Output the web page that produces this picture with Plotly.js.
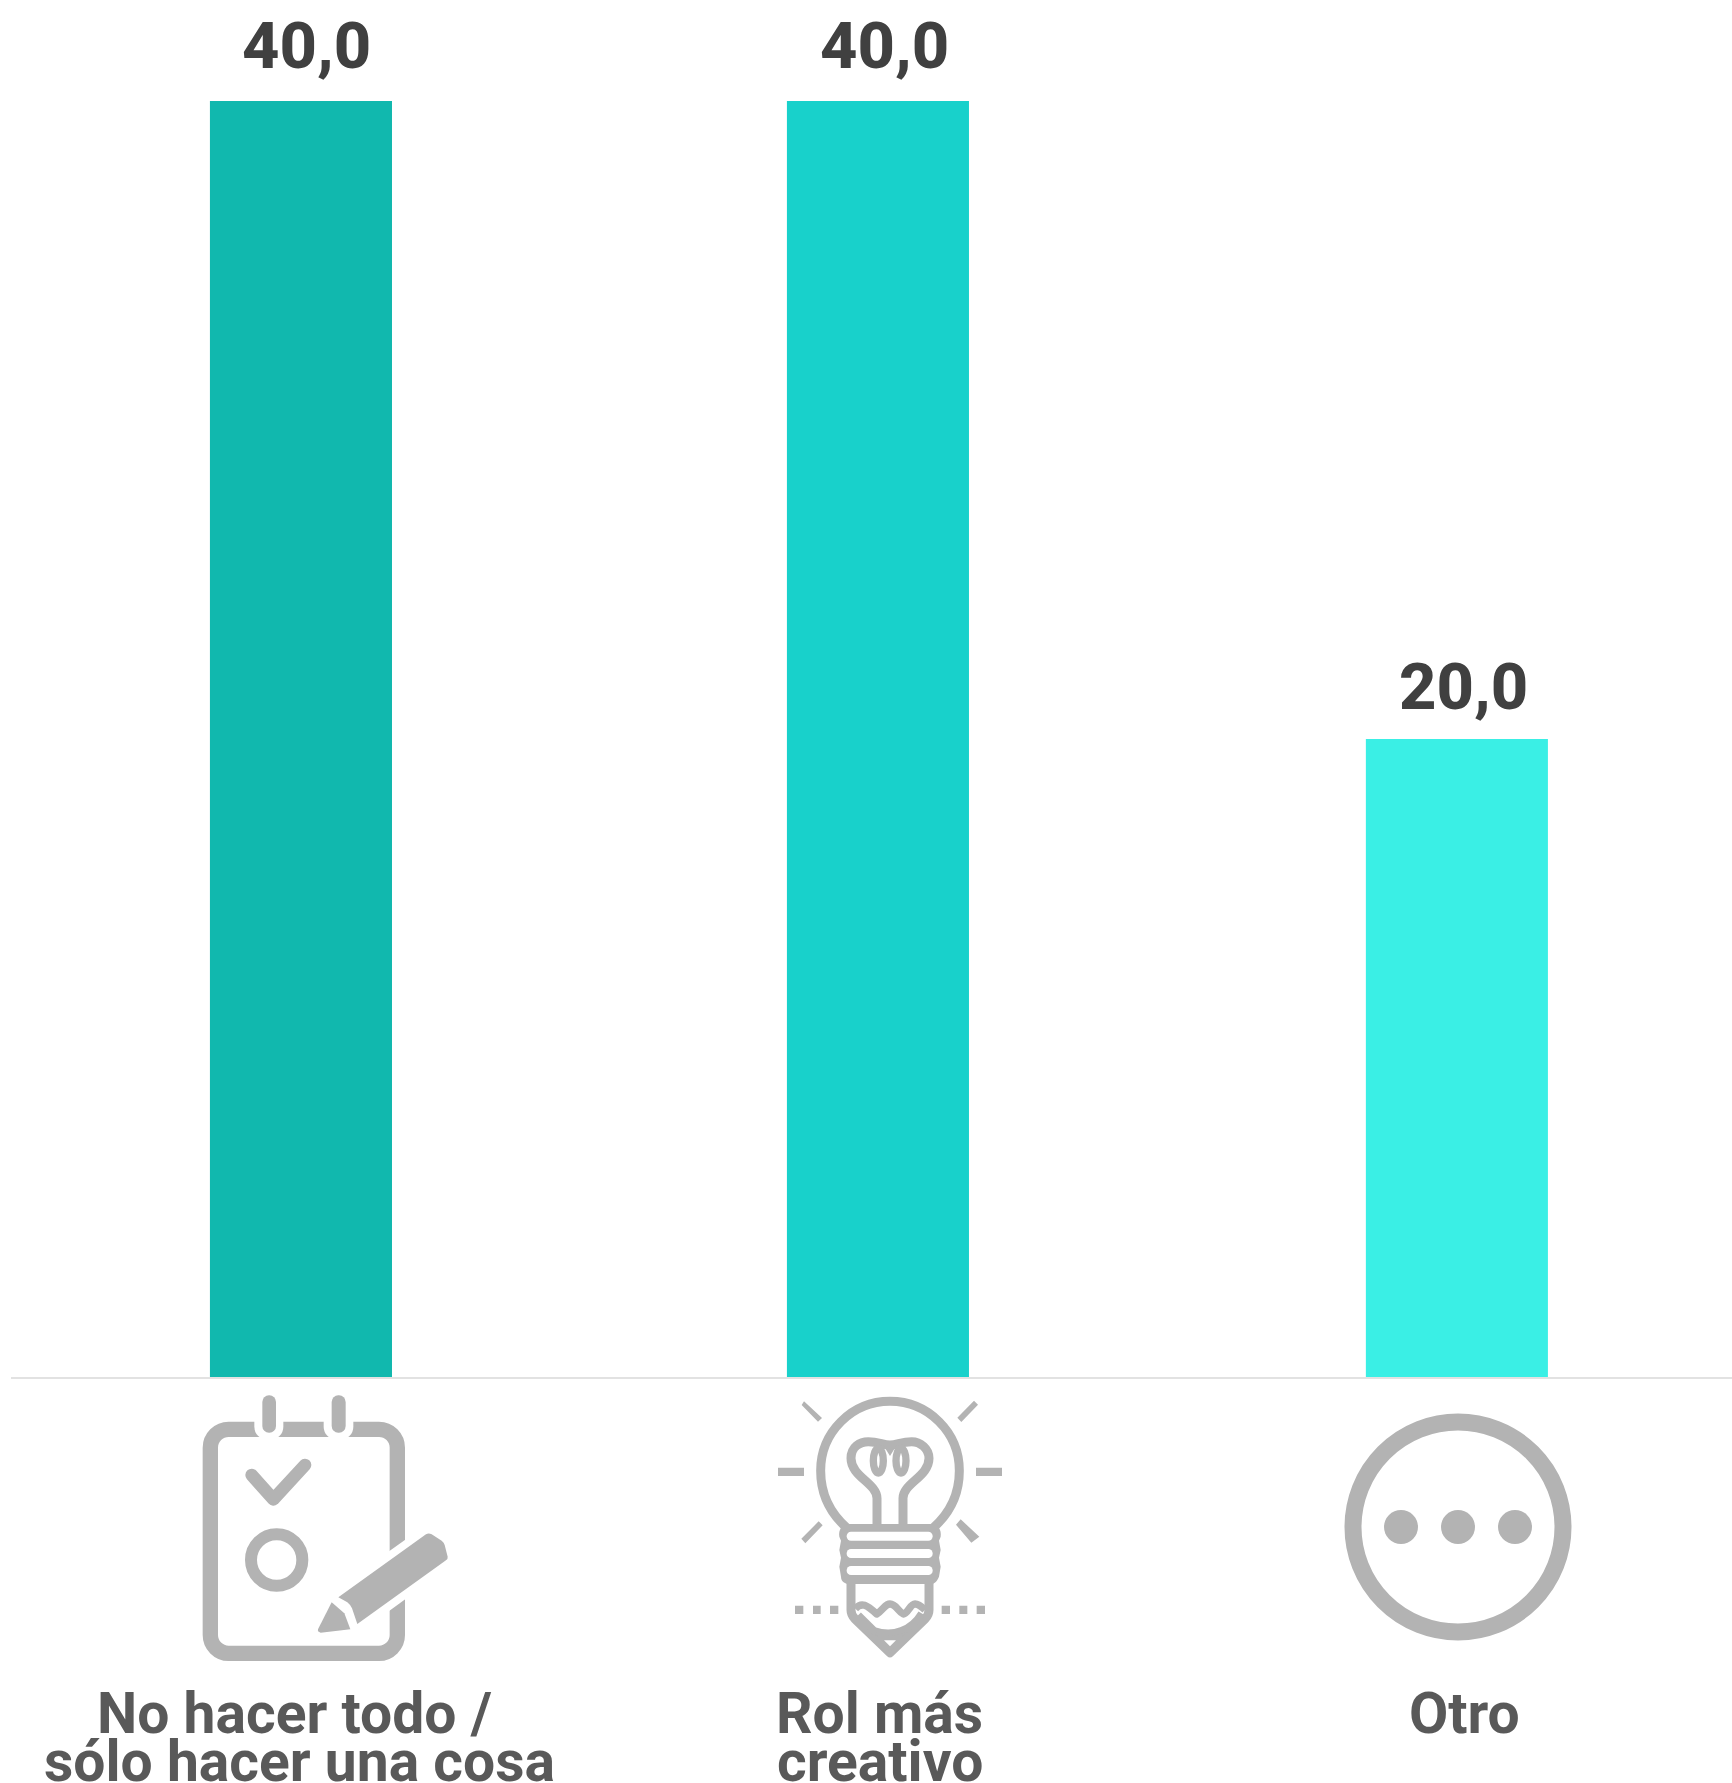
<!DOCTYPE html>
<html><head><meta charset="utf-8">
<script src="https://cdn.plot.ly/plotly-3.0.1.min.js"></script>
<style>html,body{margin:0;padding:0;background:#fff}</style></head>
<body><div id="chart" style="width:1732px;height:1783px"></div>
<script>
const categories = ["No hacer todo / sólo hacer una cosa", "Rol más creativo", "Otro"];
const values = [40, 40, 20];
const valueLabels = ["40,0", "40,0", "20,0"];
const labelLine1 = ["No hacer todo /", "Rol más", "Otro"];
const labelLine2 = ["sólo hacer una cosa", "creativo", ""];
const barColors = ["#11b8ae", "#18d1cb", "#3aefe5"];
const G = "#b3b3b3";

const iconChecklist = `<svg xmlns="http://www.w3.org/2000/svg" viewBox="0 0 1050 960" width="350" height="320">
<rect x="181" y="208" width="561" height="672" rx="55" fill="none" stroke="${G}" stroke-width="46"/>
<rect x="313" y="90" width="87" height="150" rx="40" fill="#fff"/><rect x="521" y="90" width="89" height="150" rx="40" fill="#fff"/>
<rect x="337" y="106" width="41" height="112" rx="20" fill="${G}"/><rect x="545" y="106" width="42" height="112" rx="20" fill="${G}"/>
<path d="M305 345L370 418L465 315" fill="none" stroke="${G}" stroke-width="38" stroke-linecap="round" stroke-linejoin="round"/>
<circle cx="380" cy="600" r="77" fill="none" stroke="${G}" stroke-width="36"/>
<path d="M565 712L835 520L880 548L893 595L622 792L600 745Z" fill="#fff" stroke="#fff" stroke-width="49"/>
<path d="M565 712L828 523Q836 518 845 523L875 542Q882 547 884 555L893 590Q894 597 888 601L622 792L606 745Q602 735 592 727Z" fill="${G}"/>
<path d="M545 727L583 760L601 808L512 818Q502 816 504 808Z" fill="${G}"/></svg>`;

const iconBulb = `<svg xmlns="http://www.w3.org/2000/svg" viewBox="0 0 840 900" width="280" height="300">
<g fill="none" stroke="${G}" stroke-width="27" stroke-linejoin="round">
<path d="M292 445Q212 375 212 272A208 208 0 0 1 628 272Q628 375 548 445"/>
<path d="M381 440V355C381 310 303 290 303 235C303 200 330 185 355 185C385 185 400 195 420 195C440 195 455 185 485 185C510 185 537 205 537 235C537 290 459 310 459 355V440"/>
<path d="M303 605V690Q303 705 315 717L420 818L525 717Q537 705 537 690V605"/>
</g>
<g fill="none" stroke="${G}" stroke-width="22" stroke-linejoin="round">
<ellipse cx="385" cy="242" rx="15" ry="37"/><ellipse cx="453" cy="242" rx="15" ry="37"/>
<path d="M316 686C335 665 350 675 380 702C400 690 405 672 420 672C438 672 445 695 460 702C475 700 480 672 495 672C505 672 515 680 525 690"/>
<path d="M325 705L372 752C430 772 485 750 515 700"/>
</g>
<path d="M400 196H440L420 228Z" fill="${G}"/>
<path d="M372 755Q420 778 468 755L420 820Z" fill="${G}"/>
<path d="M402 781H438L420 799Z" fill="#fff"/>
<path d="M162 64L216 114L204 125L155 75ZM684 74L634 126L622 113L672 62ZM218 436L166 490L154 476L206 424ZM688 470L664 488L618 434L632 418Z" fill="${G}"/>
<path d="M84 263H162V288H84ZM678 263H756V288H678ZM135 677H160V702H135ZM189 677H212V702H189ZM240 677H265V702H240ZM575 677H600V702H575ZM628 677H652V702H628ZM680 677H705V702H680Z" fill="${G}"/>
<path d="M300 432H540C565 432 575 450 572 470L567 482L572 510L567 533L572 560L567 590C560 605 555 612 540 612H300C285 612 273 605 273 590L268 560L273 533L268 510L273 482L268 470C265 450 275 432 300 432Z" fill="${G}"/>
<rect x="290" y="455" width="258" height="27" rx="13" fill="#fff"/><rect x="290" y="507" width="258" height="27" rx="13" fill="#fff"/><rect x="290" y="558" width="258" height="27" rx="13" fill="#fff"/>
</svg>`;

const iconDots = `<svg xmlns="http://www.w3.org/2000/svg" viewBox="0 0 240 240" width="240" height="240">
<circle cx="120" cy="120" r="105" fill="none" stroke="${G}" stroke-width="17"/>
<circle cx="63" cy="120" r="17" fill="${G}"/><circle cx="120" cy="120" r="17" fill="${G}"/><circle cx="177" cy="120" r="17" fill="${G}"/></svg>`;

const uri = s => "data:image/svg+xml;charset=utf-8," + encodeURIComponent(s);
const W = 1732, H = 1783, L = 11, BASE = 1377, PW = W - L;
const px = v => (v - L) / PW;
const py = v => (BASE - v) / BASE;
const img = (s, x, y, w, h) => ({source: uri(s), xref: "paper", yref: "paper", x: px(x), y: py(y),
  sizex: w / PW, sizey: h / BASE, xanchor: "left", yanchor: "top", sizing: "stretch", layer: "above"});

const valueFont = {family: "Roboto, sans-serif", size: 65, weight: 800, color: "#404040"};
const labelFont = {family: "Roboto, sans-serif", size: 57, weight: 700, color: "#595959"};
const shiftV = [6, 6, 7];
const liftV = [16, 16, 13];
const shift1 = [-6, 1, 8];
const shift2 = [-1, 1, 0];

const annotations = [];
categories.forEach((c, i) => {
  annotations.push({x: c, y: values[i], xref: "x", yref: "y", text: valueLabels[i], showarrow: false,
    xanchor: "center", yanchor: "bottom", xshift: shiftV[i], yshift: liftV[i], font: valueFont, borderpad: 0});
  annotations.push({x: c, y: 0, xref: "x", yref: "paper", text: labelLine1[i], showarrow: false,
    xanchor: "center", yanchor: "top", xshift: shift1[i], yshift: -302, font: labelFont, borderpad: 0});
  if (labelLine2[i]) annotations.push({x: c, y: 0, xref: "x", yref: "paper", text: labelLine2[i], showarrow: false,
    xanchor: "center", yanchor: "top", xshift: shift2[i], yshift: -350, font: labelFont, borderpad: 0});
});

Plotly.newPlot("chart", [{
  type: "bar", x: categories, y: values, width: 0.315, offset: [-0.1575, -0.1592, -0.1575],
  marker: {color: barColors, line: {width: 0}}, hoverinfo: "skip"
}], {
  width: W, height: H, showlegend: false, paper_bgcolor: "#fff", plot_bgcolor: "#fff",
  margin: {l: L, r: 0, t: 0, b: H - BASE, pad: 0},
  xaxis: {type: "category", categoryarray: categories, range: [-0.5017, 2.476], showgrid: false, zeroline: false,
    showline: true, linecolor: "#e2e2e2", linewidth: 2, showticklabels: false, ticks: ""},
  yaxis: {range: [0, 43.17], visible: false, showgrid: false, zeroline: false},
  annotations,
  images: [img(iconChecklist, 150, 1360, 350, 320), img(iconBulb, 750, 1380, 280, 300), img(iconDots, 1338, 1407, 240, 240)]
}, {staticPlot: true, displayModeBar: false});
</script></body></html>
